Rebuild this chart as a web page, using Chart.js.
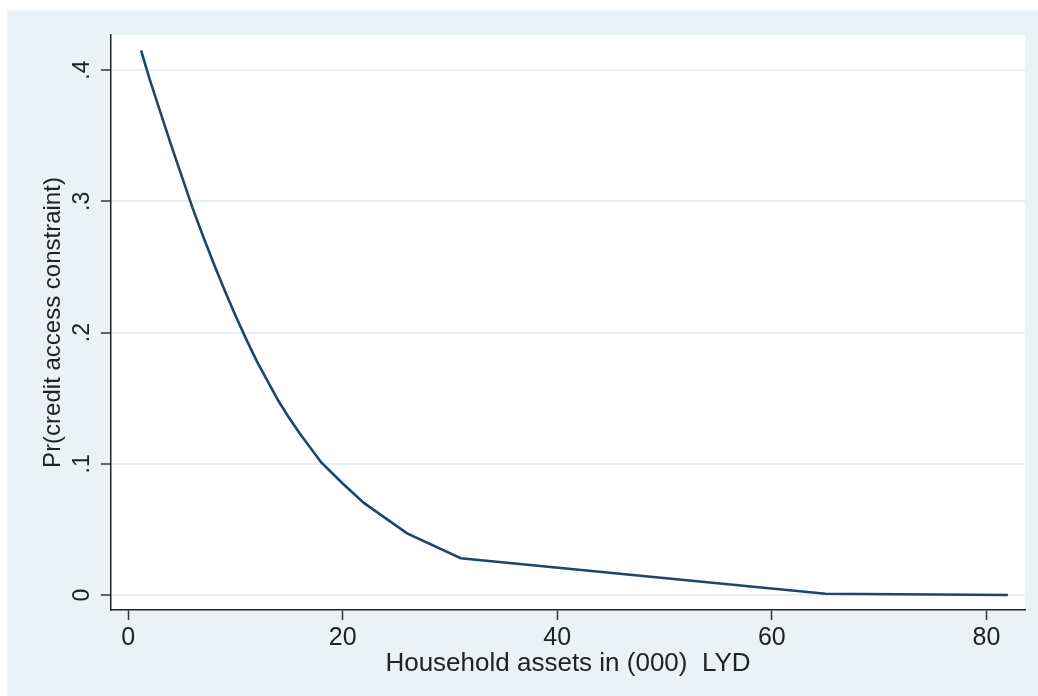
<!DOCTYPE html>
<html>
<head>
<meta charset="utf-8">
<script src="https://cdn.jsdelivr.net/npm/chart.js@4.4.1/dist/chart.umd.min.js"></script>
<style>
  html, body { margin: 0; padding: 0; background: #ffffff; }
  #wrap { position: absolute; left: 7px; top: 10px; width: 1031px; height: 686px; background: #eaf2f5; }
</style>
</head>
<body>
<div id="wrap"><canvas id="chart" width="1031" height="686"></canvas></div>
<script>
// household assets (thousand LYD) and predicted probability of a credit access constraint
const assets = [1.2, 2, 3, 4, 5, 6, 7, 8, 9, 10, 11, 12, 13, 14, 15, 16, 17, 18, 19, 20, 22, 26, 31, 65, 82];
const prConstraint = [0.415, 0.393, 0.368, 0.343, 0.319, 0.295, 0.273, 0.252, 0.232, 0.213, 0.195, 0.178, 0.163, 0.148, 0.135, 0.123, 0.112, 0.101, 0.093, 0.085, 0.070, 0.047, 0.028, 0.001, 0.0];

const xTicks = [0, 20, 40, 60, 80];
const yTicks = [0, 0.1, 0.2, 0.3, 0.4];
const yTickLabels = ['0', '.1', '.2', '.3', '.4'];

const textColor = '#222222';
const lineColor = '#1a476f';
const fontFamily = 'Liberation Sans, Arial, sans-serif';

// white plot region on the tinted background
const plotRegion = {
    id: 'plotRegion',
    beforeDraw(chart) {
        const {ctx, chartArea} = chart;
        ctx.save();
        ctx.fillStyle = '#ffffff';
        ctx.fillRect(chartArea.left, chartArea.top, chartArea.right - chartArea.left, chartArea.bottom - chartArea.top);
        ctx.restore();
    }
};

const ctx = document.getElementById('chart').getContext('2d');
new Chart(ctx, {
    type: 'scatter',
    data: {
        datasets: [{
            data: assets.map((a, i) => ({x: a, y: prConstraint[i]})),
            borderColor: lineColor,
            borderWidth: 2.6,
            pointRadius: 0,
            showLine: true,
            fill: false,
            tension: 0
        }]
    },
    options: {
        responsive: false,
        animation: false,
        layout: { padding: { left: 0, top: 25, right: 13, bottom: 0 } },
        plugins: {
            legend: { display: false },
            tooltip: { enabled: false }
        },
        scales: {
            x: {
                type: 'linear',
                min: -1.6,
                max: 83.6,
                afterBuildTicks: (scale) => { scale.ticks = xTicks.map(v => ({value: v})); },
                afterFit: (scale) => { scale.height = 86; },
                grid: { drawOnChartArea: false, tickColor: '#333333', tickLength: 10, tickWidth: 1.5 },
                border: { display: true, color: '#222222', width: 1.5 },
                ticks: {
                    color: textColor,
                    font: { family: fontFamily, size: 25 },
                    padding: 3,
                    maxRotation: 0,
                    minRotation: 0
                },
                title: {
                    display: true,
                    text: 'Household assets in (000)  LYD',
                    color: textColor,
                    font: { family: fontFamily, size: 26 },
                    padding: { top: 0, bottom: 17 }
                }
            },
            y: {
                type: 'linear',
                min: -0.0114,
                max: 0.4267,
                afterBuildTicks: (scale) => { scale.ticks = yTicks.map(v => ({value: v})); },
                afterFit: (scale) => { scale.width = 104; },
                grid: { color: '#e6eff2', lineWidth: 2, tickColor: '#333333', tickLength: 10, tickWidth: 1.5 },
                border: { display: true, color: '#222222', width: 1.5 },
                ticks: {
                    color: textColor,
                    font: { family: fontFamily, size: 23 },
                    padding: 9,
                    crossAlign: 'center',
                    minRotation: 90,
                    maxRotation: 90,
                    callback: (v) => yTickLabels[yTicks.indexOf(v)]
                },
                title: {
                    display: true,
                    text: 'Pr(credit access constraint)',
                    color: textColor,
                    font: { family: fontFamily, size: 24 },
                    padding: { top: 32, bottom: 0 }
                }
            }
        }
    },
    plugins: [plotRegion]
});
</script>
</body>
</html>
